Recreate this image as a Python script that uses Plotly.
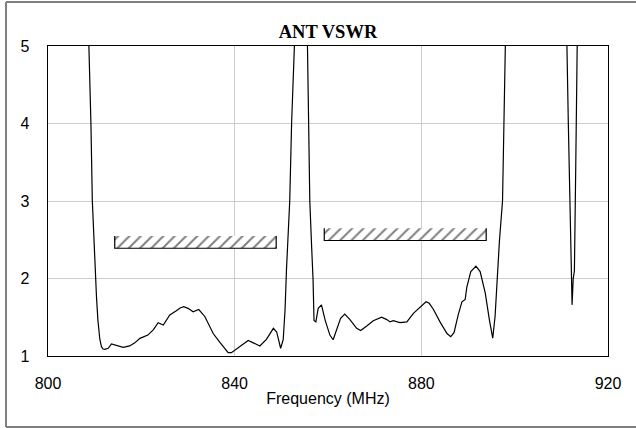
import plotly.graph_objects as go

# ---- data ----
freq = [800, 808.8, 809.2, 809.5, 810.0, 810.4, 810.7, 811.1, 811.45, 811.8, 812.2, 812.9,
        813.6, 814.7, 816.1, 817.5, 818.6, 819.7, 821.4, 822.6, 823.6, 824.7, 826.1, 827.5,
        828.3, 829.1, 830.0, 831.1, 832.3, 833.6, 835.4, 836.8, 838.0, 838.6, 839.3, 840.8,
        842.9, 844.0, 845.4, 846.8, 848.3, 849.0, 849.85, 850.4, 850.8, 851.1, 851.5, 851.8,
        852.2, 852.7, 854.0, 855.6, 855.9, 856.1, 856.5, 856.8, 857.0, 857.4, 857.9, 858.6,
        859.4, 860.4, 861.1, 861.9, 862.7, 863.6, 864.7, 866.15, 867.0, 868.3, 869.7, 871.5,
        872.6, 873.3, 874.0, 875.4, 876.9, 878.3, 879.7, 881.0, 881.7, 882.6, 884.0, 885.5,
        886.3, 887.0, 887.9, 888.7, 889.4, 889.75, 890.6, 891.7, 892.6, 893.7, 894.6, 895.3,
        895.8, 896.3, 896.75, 897.4, 897.7, 898.0, 904.0, 911.2, 911.5, 911.8, 912.05, 912.3,
        912.55, 912.8, 913.1, 913.4, 920]
vswr = [25, 5.0, 4.0, 3.0, 2.2, 1.75, 1.46, 1.22, 1.12, 1.09, 1.085, 1.10,
        1.155, 1.138, 1.112, 1.13, 1.17, 1.228, 1.27, 1.34, 1.43, 1.40, 1.53, 1.585,
        1.62, 1.636, 1.615, 1.57, 1.60, 1.51, 1.29, 1.18, 1.08, 1.043, 1.043, 1.11,
        1.20, 1.17, 1.13, 1.215, 1.357, 1.31, 1.10, 1.21, 1.6, 2.11, 2.75, 3.0,
        4.0, 5.0, 7.0, 5.0, 4.0, 3.0, 2.4, 1.98, 1.46, 1.44, 1.615, 1.66,
        1.46, 1.27, 1.21, 1.335, 1.486, 1.54, 1.47, 1.357, 1.33, 1.387, 1.455, 1.50,
        1.47, 1.44, 1.455, 1.43, 1.44, 1.55, 1.63, 1.70, 1.68, 1.60, 1.44, 1.29,
        1.25, 1.30, 1.53, 1.70, 1.73, 1.89, 2.09, 2.16, 2.09, 1.81, 1.46, 1.23,
        1.51, 2.11, 2.5, 3.0, 4.0, 5.0, 12.0, 5.0, 4.0, 3.0, 2.0, 1.66,
        2.0, 2.1, 3.5, 5.0, 15.0]

# spec bands (hatched boxes): [f_start, f_end, vswr_low, vswr_high]
band1 = [814.3, 848.9, 2.39, 2.55]
band2 = [859.2, 893.9, 2.49, 2.65]
bands = [band1, band2]

x_ticks = [800, 840, 880, 920]
y_ticks = [1, 2, 3, 4, 5]

fig = go.Figure()

for b in bands:
    f0, f1, lo, hi = b
    fig.add_trace(go.Scatter(
        x=[f0, f1, f1, f0, f0], y=[lo, lo, hi, hi, lo],
        mode="lines", fill="toself", fillcolor="rgba(0,0,0,0)",
        fillpattern=dict(shape="/", size=8, solidity=0.25, fgcolor="black",
                         bgcolor="white"),
        line=dict(width=0), hoverinfo="skip", showlegend=False))
    fig.add_trace(go.Scatter(
        x=[f0, f0, f1, f1], y=[hi, lo, lo, hi],
        mode="lines", line=dict(color="black", width=1.2),
        hoverinfo="skip", showlegend=False))

fig.add_trace(go.Scatter(x=freq, y=vswr, mode="lines",
                         line=dict(color="black", width=1.2),
                         showlegend=False))

tick_font = dict(family="Liberation Sans, Arial, sans-serif", size=16, color="black")

# outer frame (left, top, bottom edges) in paper units
fx0 = (6 - 48) / 560
fx1 = 1.3
fy0 = (356 - 427) / 310
fy1 = (356 - 2) / 310
frame_line = dict(color="#808080", width=2)
frame = [
    dict(type="line", xref="paper", yref="paper", x0=fx0, x1=fx0, y0=fy0, y1=fy1, line=frame_line),
    dict(type="line", xref="paper", yref="paper", x0=fx0, x1=fx1, y0=fy1, y1=fy1, line=frame_line),
    dict(type="line", xref="paper", yref="paper", x0=fx0, x1=fx1, y0=fy0, y1=fy0, line=frame_line),
]

fig.update_layout(
    width=636, height=428,
    margin=dict(l=48, r=28, t=46, b=72),
    paper_bgcolor="white", plot_bgcolor="white",
    font=dict(family="Liberation Sans, Arial, sans-serif", size=16, color="black"),
    title=dict(text="<b>ANT VSWR</b>", x=0.5, xref="paper", y=1 - 32 / 428,
               yref="container", xanchor="center", yanchor="middle",
               font=dict(family="Liberation Serif, Times New Roman, serif", size=18.5,
                         color="black")),
    xaxis=dict(range=[800, 920], tickvals=x_ticks, ticktext=[str(v) for v in x_ticks],
               tickfont=tick_font,
               showgrid=True, gridcolor="#cccccc", gridwidth=1,
               showline=True, mirror=True, linecolor="black", linewidth=1.3,
               ticks="", ticklabelstandoff=12, zeroline=False),
    yaxis=dict(range=[1, 5], tickvals=y_ticks, ticktext=[str(v) for v in y_ticks],
               tickfont=tick_font,
               showgrid=True, gridcolor="#cccccc", gridwidth=1,
               showline=True, mirror=True, linecolor="black", linewidth=1.3,
               ticks="", ticklabelstandoff=14, zeroline=False),
    shapes=frame,
)
fig.update_xaxes(title=dict(text="Frequency (MHz)", standoff=2, font=tick_font))

fig.write_html("out.html",
               config={"displayModeBar": False, "staticPlot": True},
               post_script="document.body.style.margin='0';"
                           "document.body.style.overflow='hidden';")
